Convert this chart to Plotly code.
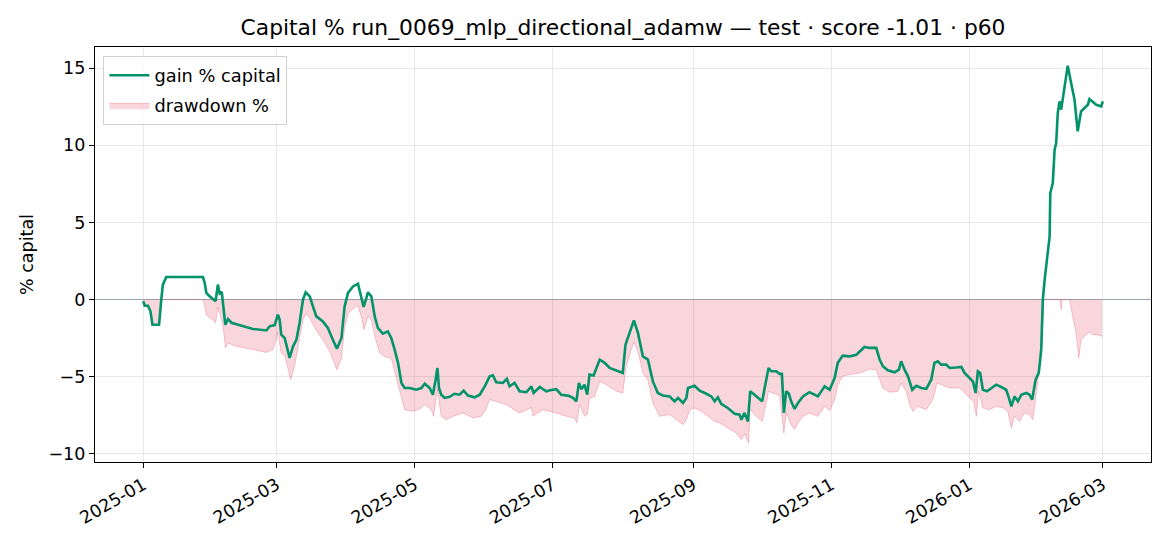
import pandas as pd
import plotly.graph_objects as go

start_date = "2025-01-01"

# gain % capital: (days since start, value)
gain_days = [0, 0.7, 2.1, 3.2, 4.1, 7.0, 8.0, 8.7, 10.2, 26.4, 27.2, 27.9, 29.1, 30.6, 32.0, 33.0, 33.8, 34.7,
             35.6, 36.3, 37.5, 39.0, 41.2, 44.8, 48.5, 54.4, 55.9, 58.1, 59.5, 60.3, 61.0, 62.5, 64.7, 66.2,
             67.7, 69.1, 70.6, 71.8, 73.6, 75.0, 76.5, 79.4, 81.6, 83.8, 85.6, 87.6, 89.0, 90.5, 92.7, 94.9,
             96.0, 97.4, 98.6, 99.3, 100.8, 102.3, 103.7, 105.9, 108.1, 109.6, 111.1, 112.6, 114.1, 115.5,
             117.7, 120.7, 122.9, 124.4, 126.6, 128.0, 129.2, 130.0, 130.7, 131.7, 133.2, 135.4, 137.6,
             139.8, 141.6, 143.5, 146.4, 148.7, 150.9, 153.1, 154.5, 156.0, 158.9, 160.7, 161.9, 164.1,
             166.3, 169.3, 171.5, 172.5, 175.2, 178.1, 180.3, 182.5, 184.7, 187.7, 189.9, 191.4, 192.5,
             193.6, 195.0, 196.2, 197.2, 199.0, 201.7, 203.9, 206.1, 209.0, 211.9, 213.1, 214.9, 216.8,
             218.6, 220.8, 223.0, 225.2, 227.4, 229.6, 232.6, 234.8, 236.3, 238.5, 240.0, 240.7, 243.6,
             245.9, 248.8, 251.0, 252.5, 253.9, 255.4, 258.3, 261.3, 263.5, 264.3, 265.7, 267.2, 268.2,
             270.1, 272.3, 273.5, 274.6, 276.3, 277.5, 279.7, 281.2, 282.2, 283.1, 284.1, 285.3, 286.3,
             287.8, 289.3, 291.5, 294.4, 296.6, 298.1, 301.1, 303.3, 305.5, 306.9, 309.1, 312.1, 315.1,
             318.7, 321.0, 323.9, 325.4, 326.8, 329.0, 332.0, 333.9, 334.9, 336.4, 337.9, 339.8, 341.6,
             343.8, 346.0, 348.2, 349.6, 351.1, 352.6, 354.8, 356.3, 359.2, 361.5, 362.9, 365.1, 366.6,
             367.8, 368.8, 369.8, 371.0, 372.8, 374.7, 376.9, 379.1, 381.3, 382.5, 383.6, 385.0, 386.5,
             388.0, 390.2, 391.6, 392.8, 394.3, 395.7, 396.8, 397.5, 398.3, 399.0, 400.5, 400.8, 401.9,
             402.7, 403.4, 404.1, 404.9, 405.6, 406.3, 407.1, 408.5, 410.0, 411.5, 412.9, 414.4, 415.9,
             417.4, 418.1, 419.6, 421.1, 423.3, 424.0]
gain_pct = [-0.1, -0.4, -0.4, -0.76, -1.63, -1.63, 0.0, 0.97, 1.46, 1.46, 1.07, 0.43, 0.25, 0.04, -0.1, 0.97, 0.4, 0.5,
            -0.65, -1.63, -1.26, -1.5, -1.6, -1.73, -1.9, -2.0, -1.73, -1.65, -0.98, -1.3, -2.27, -2.49, -3.78, -3.03,
            -2.6, -1.52, 0.0, 0.47, 0.21, -0.44, -1.09, -1.41, -1.84, -2.6, -3.18, -2.49, -0.44, 0.43, 0.85, 1.03,
            0.32, -0.48, 0.1, 0.47, 0.21, -1.09, -1.84, -2.21, -2.06, -2.49, -3.24, -4.1, -5.4, -5.73,
            -5.73, -5.84, -5.73, -5.45, -5.73, -6.16, -5.19, -4.43, -5.73, -6.16, -6.37, -6.3, -6.1,
            -6.16, -5.9, -6.22, -6.33, -6.16, -5.62, -4.97, -4.9, -5.36, -5.4, -5.14, -5.62, -5.4,
            -5.94, -6.0, -5.62, -6.05, -5.66, -5.94, -5.85, -5.8, -6.16, -6.22, -6.37, -6.59, -5.4,
            -5.8, -5.51, -6.16, -4.86, -4.92, -3.89, -4.1, -4.43, -4.58, -4.75, -2.92, -2.16, -1.35,
            -2.16, -3.68, -3.89, -5.3, -6.05, -6.22, -6.27, -6.59, -6.37, -6.7, -6.37, -5.73, -5.58,
            -5.9, -6.1, -6.27, -6.59, -6.33, -6.75, -7.02, -7.39, -7.45, -7.78, -7.34, -7.89, -5.94,
            -6.16, -6.48, -6.59, -5.73, -4.43, -4.64, -4.64, -4.81, -4.81, -7.34, -5.94, -6.1, -6.59,
            -7.08, -6.7, -6.27, -6.0, -6.16, -6.27, -5.62, -5.84, -5.08, -4.1, -3.63, -3.68, -3.57,
            -3.07, -3.13, -3.13, -3.89, -4.32, -4.58, -4.71, -4.54, -4.0, -4.54, -4.97, -5.84, -5.58,
            -5.73, -5.78, -5.19, -4.1, -4.0, -4.21, -4.21, -4.43, -4.4, -4.36, -4.75, -5.08, -5.3,
            -6.05, -4.65, -4.75, -5.84, -5.94, -5.73, -5.51, -5.66, -5.84, -6.37, -6.91, -6.27, -6.59,
            -6.16, -6.05, -6.16, -6.48, -5.19, -4.75, -3.24, 0.0, 1.29, 2.15, 4.09, 6.9, 7.55,
            9.71, 10.14, 12.09, 12.84, 12.3, 12.95, 13.7, 15.15, 14.03, 12.95, 10.9, 12.19, 12.41,
            12.62, 12.99, 12.8, 12.62, 12.51, 12.84]

# drawdown %: (days since start, value)
dd_days = [0, 0.7, 2.1, 3.2, 4.1, 7.0, 8.0, 26.4, 27.2, 27.9, 29.4, 30.8, 32.0, 33.0, 34.1, 35.3, 36.4, 37.5,
           39.7, 42.6, 48.5, 54.4, 57.3, 58.8, 59.5, 61.0, 62.5, 65.2, 66.9, 69.1, 70.6, 72.1, 73.6, 76.5,
           79.4, 82.4, 85.6, 87.6, 89.0, 90.5, 92.7, 94.9, 96.4, 97.5, 99.3, 100.8, 102.3, 104.5, 106.7,
           109.6, 111.1, 112.6, 114.1, 115.5, 119.2, 122.1, 124.4, 127.3, 128.3, 130.0, 131.7, 133.9,
           136.9, 141.3, 145.7, 149.4, 150.9, 153.1, 156.0, 160.4, 166.3, 171.5, 172.2, 176.6, 182.5,
           186.9, 190.6, 191.6, 192.8, 195.0, 196.2, 197.2, 199.4, 201.7, 204.6, 209.0, 211.9, 213.4,
           215.7, 216.8, 218.6, 220.8, 223.0, 225.2, 228.2, 232.6, 235.5, 238.5, 240.0, 241.5, 243.6,
           246.6, 249.5, 252.5, 254.7, 258.3, 262.0, 264.3, 265.7, 267.5, 268.2, 270.8, 273.5, 275.3,
           276.3, 278.2, 281.2, 283.1, 284.1, 286.3, 287.8, 289.3, 291.5, 294.4, 298.1, 301.1, 303.3,
           305.5, 306.9, 309.1, 312.1, 316.6, 321.0, 323.9, 325.4, 326.8, 329.8, 333.4, 334.9, 337.2,
           338.6, 340.1, 342.3, 346.0, 348.9, 350.7, 352.6, 356.3, 360.7, 362.9, 365.9, 366.9, 368.1,
           369.1, 371.0, 373.9, 376.9, 379.8, 382.0, 383.6, 385.0, 387.2, 389.4, 391.6, 393.1, 394.6,
           396.0, 397.2, 397.9, 405.1, 405.6, 406.0, 409.3, 410.7, 412.2, 413.4, 414.4, 416.7, 418.1,
           419.6, 421.8, 423.3, 423.7]
dd_pct = [-0.1, -0.4, -0.4, -0.76, -1.63, -1.63, 0.0, 0.0, -0.4, -1.0, -1.2, -1.3, -1.5, -0.5, -1.0, -1.73, -3.13, -2.8,
          -2.95, -3.07, -3.24, -3.42, -3.24, -2.6, -2.1, -3.46, -3.6, -5.19, -4.3, -2.6, -1.3, -0.9, -1.2, -2.0,
          -2.6, -3.35, -4.54, -3.8, -1.84, -0.9, -0.6, -0.4, -1.09, -1.95, -1.09, -1.3, -2.38, -3.46, -3.7,
          -3.8, -4.65, -5.5, -6.48, -7.13, -7.24, -7.1, -6.8, -7.13, -7.56, -5.8, -7.56, -7.78,
          -7.56, -7.34, -7.67, -7.56, -7.24, -6.48, -6.6, -6.8, -7.34, -7.0, -7.56, -7.13, -7.34,
          -7.56, -7.67, -7.99, -6.8, -7.56, -7.45, -6.37, -6.3, -5.3, -5.51, -5.94, -6.05, -4.32,
          -3.24, -2.77, -3.35, -4.75, -5.19, -6.7, -7.56, -7.45, -7.78, -8.1, -7.78, -7.13, -7.02,
          -7.24, -7.56, -7.89, -7.99, -8.32, -8.64, -9.07, -8.7, -9.29, -7.13, -7.56, -7.89, -6.7,
          -5.94, -6.05, -6.22, -8.64, -7.34, -8.1, -8.42, -7.99, -7.56, -7.34, -7.56, -6.91, -7.2,
          -6.48, -5.51, -4.97, -4.86, -4.75, -4.5, -4.55, -5.19, -5.73, -6.0, -5.95, -5.4, -5.95,
          -6.8, -7.24, -6.91, -7.13, -6.48, -5.4, -5.5, -5.73, -5.73, -6.05, -6.48, -6.6, -7.56,
          -5.94, -7.02, -7.13, -6.91, -7.0, -7.24, -8.32, -7.56, -7.89, -7.34, -7.45, -7.78, -6.27,
          -4.54, -2.16, 0.0, 0.0, -0.65, 0.0, 0.0, -1.09, -2.16, -3.78, -2.6, -2.27, -2.1,
          -2.27, -2.27, -2.38, -2.3]

t0 = pd.Timestamp(start_date)
gain_dates = [t0 + pd.Timedelta(days=d) for d in gain_days]
dd_dates = [t0 + pd.Timedelta(days=d) for d in dd_days]

title = "Capital % run_0069_mlp_directional_adamw — test · score -1.01 · p60"
FONT = "DejaVu Sans"

fig = go.Figure()
fig.add_trace(go.Scatter(
    x=dd_dates, y=dd_pct, mode="lines", name="drawdown %", legendgroup="dd", legendrank=2,
    fill="tozeroy", fillcolor="rgba(220,20,60,0.18)",
    line=dict(color="rgba(220,20,60,0.22)", width=1),
))
fig.add_trace(go.Scatter(
    x=gain_dates, y=gain_pct, mode="lines", name="gain % capital", legendgroup="gain", legendrank=1,
    line=dict(color="#02936a", width=2.6),
))

axis_common = dict(
    showline=True, mirror=True, linecolor="black", linewidth=1.2,
    ticks="outside", ticklen=5, tickwidth=1.2, tickcolor="black",
    showgrid=True, gridcolor="#e8e8e8", gridwidth=1.2,
    tickfont=dict(family=FONT, size=17.5, color="black"),
    automargin=False,
)

fig.update_layout(
    width=1170, height=546,
    margin=dict(l=95, r=19, t=47, b=84),
    paper_bgcolor="white", plot_bgcolor="white",
    font=dict(family=FONT, color="black"),
    title=dict(text=title, x=0.5325, xref="container", xanchor="center",
               y=1 - 27 / 546, yref="container", yanchor="middle",
               font=dict(family=FONT, size=21.8, color="black")),
    showlegend=True,
    legend=dict(x=0.008, y=0.978, xanchor="left", yanchor="top",
                bgcolor="rgba(255,255,255,0.8)", bordercolor="#d0d0d0", borderwidth=1,
                font=dict(family=FONT, size=17.8, color="black"),
                traceorder="grouped", tracegroupgap=4, itemwidth=40),
    xaxis=dict(
        type="date",
        range=["2024-12-10 17:00", "2026-03-22 07:00"],
        tick0="2025-01-01", dtick="M2", tickformat="%Y-%m",
        tickangle=-30, zeroline=False,
        **axis_common,
    ),
    yaxis=dict(
        range=[-10.52, 16.36], tick0=0, dtick=5,
        zeroline=True, zerolinecolor="#9aa6b2", zerolinewidth=1.3,
        title=dict(text="% capital", standoff=10, font=dict(family=FONT, size=17.5, color="black")),
        **axis_common,
    ),
)

fig.write_html("out.html", config={"displayModeBar": False},
               post_script="document.body.style.margin='0';")
